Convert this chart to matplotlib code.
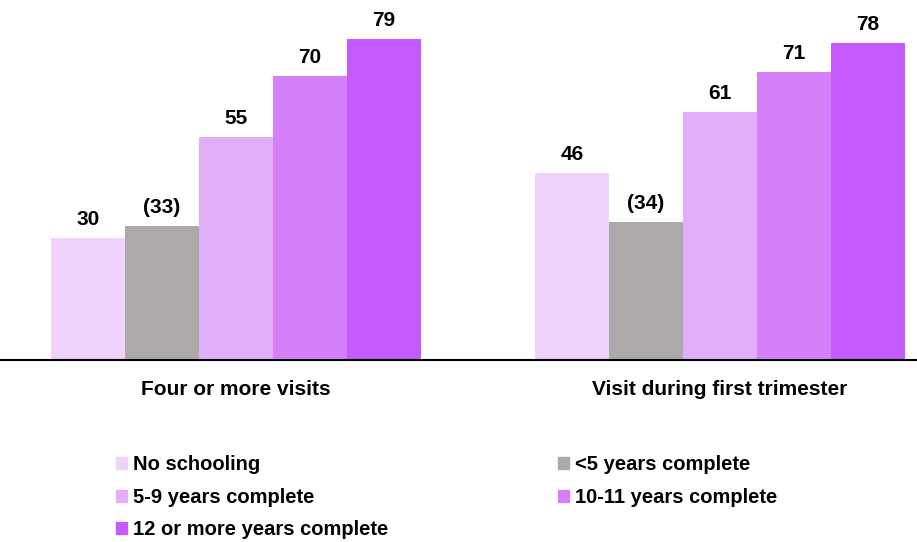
import numpy as np
import matplotlib.pyplot as plt
from matplotlib.patches import Patch

plt.rcParams['font.family'] = ['Liberation Sans', 'DejaVu Sans']
plt.rcParams['font.weight'] = 'bold'

# Data
groups = ["Four or more visits", "Visit during first trimester"]
series = ["No schooling", "<5 years complete", "5-9 years complete",
          "10-11 years complete", "12 or more years complete"]
values = [
    [30, 46],
    [33, 34],
    [55, 61],
    [70, 71],
    [79, 78],
]
labels = [
    ["30", "46"],
    ["(33)", "(34)"],
    ["55", "61"],
    ["70", "71"],
    ["79", "78"],
]
colors = ["#EFD3FC", "#ADA9A9", "#E2AEF9", "#D580FB", "#C55BFD"]

fig = plt.figure(figsize=(9.17, 5.42), dpi=100)
ax = fig.add_axes([0, 182 / 542, 1, 345 / 542])

x = np.arange(len(groups))
w = 74 / 484
for i, (vals, c) in enumerate(zip(values, colors)):
    pos = x + (i - 2) * w
    ax.bar(pos, vals, width=w, color=c, label=series[i])
    for p, v, t in zip(pos, vals, labels[i]):
        ax.text(p, v + 2.2, t, ha='center', va='bottom', fontsize=15, fontweight='bold')

ax.set_xlim(-236 / 484, 1 + 197 / 484)
ax.set_ylim(0, 85)
ax.set_xticks(x)
ax.set_xticklabels(groups, fontsize=15, fontweight='bold')
ax.tick_params(axis='x', length=0, pad=14.5)
ax.set_yticks([])
for s in ['top', 'right', 'left']:
    ax.spines[s].set_visible(False)
ax.spines['bottom'].set_linewidth(1.5)

# Legend in two columns
handles = [Patch(color=c) for c in colors]
kw = dict(frameon=False, handlelength=0.55, handleheight=0.55,
          handletextpad=0.3, labelspacing=0.68, borderaxespad=0, borderpad=0,
          prop={'weight': 'bold', 'size': 14.5})
leg1 = fig.legend([handles[0], handles[2], handles[4]],
                  [series[0], series[2], series[4]],
                  loc='upper left', bbox_to_anchor=(116 / 917, 1 - 455 / 542), **kw)
leg2 = fig.legend([handles[1], handles[3]], [series[1], series[3]],
                  loc='upper left', bbox_to_anchor=(558 / 917, 1 - 455 / 542), **kw)

fig.savefig("out.png", dpi=100)
